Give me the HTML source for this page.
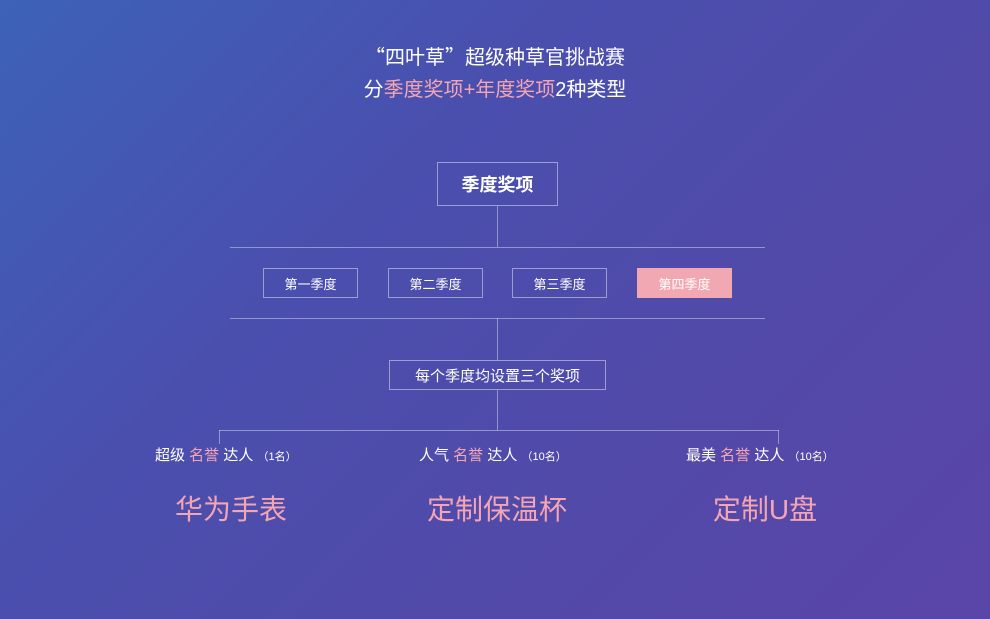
<!DOCTYPE html>
<html><head><meta charset="utf-8"><style>
*{margin:0;padding:0;box-sizing:border-box}
body{width:990px;height:619px;overflow:hidden;font-family:"Liberation Sans","Noto Sans CJK SC",sans-serif;color:#fff}
#c{position:relative;width:990px;height:619px;background:linear-gradient(135deg,#3d62b8 0%,#4a4fae 35%,#5249a8 70%,#5a45a8 100%)}
.a{position:absolute}
.t{white-space:nowrap}
.p{color:#f4a5b3}
.q{font-family:"Noto Sans CJK SC",sans-serif}
.box{position:absolute;border:1px solid rgba(255,255,255,0.45);display:flex;align-items:center;justify-content:center;white-space:nowrap}
.l{position:absolute;background:rgba(255,255,255,0.4)}
</style></head><body><div id="c">
<div class="a t" style="left:0;width:990px;top:42px;text-align:center;font-size:20px;line-height:28px"><span class="q">“</span>四叶草<span class="q">”</span>超级种草官挑战赛</div>
<div class="a t" style="left:0;width:990px;top:76px;text-align:center;font-size:20px;line-height:28px">分<span class="p">季度奖项+年度奖项</span>2种类型</div>

<div class="box" style="left:437px;top:162px;width:121px;height:44px;font-size:18px;font-weight:bold">季度奖项</div>
<div class="l" style="left:497px;top:206px;width:1px;height:41px"></div>
<div class="l" style="left:230px;top:247px;width:535px;height:1px"></div>

<div class="box" style="left:263px;top:268px;width:95px;height:30px;font-size:13px">第一季度</div>
<div class="box" style="left:388px;top:268px;width:95px;height:30px;font-size:13px">第二季度</div>
<div class="box" style="left:512px;top:268px;width:95px;height:30px;font-size:13px">第三季度</div>
<div class="box" style="left:637px;top:268px;width:95px;height:30px;font-size:13px;background:#f2a8b2;border-color:#f2a8b2">第四季度</div>

<div class="l" style="left:230px;top:318px;width:535px;height:1px"></div>
<div class="l" style="left:497px;top:318px;width:1px;height:42px"></div>
<div class="box" style="left:389px;top:360px;width:217px;height:30px;font-size:15px">每个季度均设置三个奖项</div>
<div class="l" style="left:497px;top:390px;width:1px;height:40px"></div>
<div class="l" style="left:219px;top:430px;width:560px;height:1px"></div>
<div class="l" style="left:219px;top:430px;width:1px;height:14px"></div>
<div class="l" style="left:778px;top:430px;width:1px;height:14px"></div>

<div class="a t" style="left:155px;top:445px;font-size:15px;line-height:22px">超级 <span class="p">名誉</span> 达人 <span style="font-size:11px">（1名）</span></div>
<div class="a t" style="left:419px;top:445px;font-size:15px;line-height:22px">人气 <span class="p">名誉</span> 达人 <span style="font-size:11px">（10名）</span></div>
<div class="a t" style="left:686px;top:445px;font-size:15px;line-height:22px">最美 <span class="p">名誉</span> 达人 <span style="font-size:11px">（10名）</span></div>

<div class="a t p" style="left:131px;width:200px;top:492px;text-align:center;font-size:28px;line-height:36px">华为手表</div>
<div class="a t p" style="left:397px;width:200px;top:492px;text-align:center;font-size:28px;line-height:36px">定制保温杯</div>
<div class="a t p" style="left:665px;width:200px;top:492px;text-align:center;font-size:28px;line-height:36px">定制U盘</div>
</div></body></html>
